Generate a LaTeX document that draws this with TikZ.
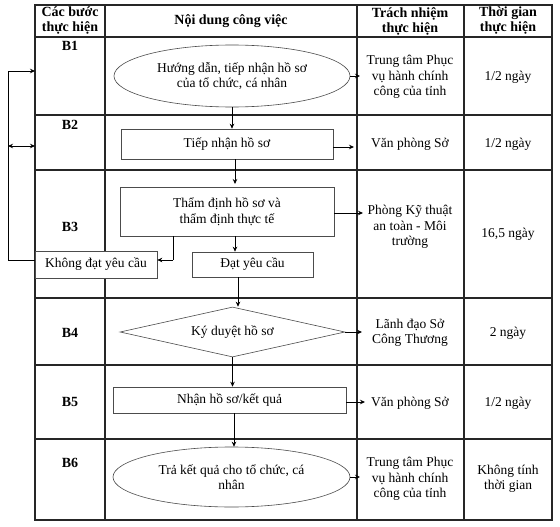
\documentclass[tikz,border=0pt]{standalone}
\usepackage{fontspec}
\setmainfont{Liberation Serif}
\usetikzlibrary{shapes.geometric,arrows.meta}
\begin{document}
\begin{tikzpicture}[x=1pt,y=-1pt,
  font=\fontsize{13.5}{15.5}\selectfont,
  tbl/.style={line width=1.1pt, black!85},
  boxline/.style={draw=black!70, line width=0.6pt},
  flowbox/.style={boxline, fill=white, rectangle, inner sep=0pt, align=center},
  oval/.style={boxline, ellipse, inner sep=0pt, align=center},
  dia/.style={boxline, diamond, aspect=4.5, inner sep=0pt, align=center},
  txt/.style={align=center, inner sep=0pt},
  hdr/.style={align=center, inner sep=0pt, font=\fontsize{14}{15}\selectfont\bfseries},
  arr/.style={line width=0.8pt, -{Stealth[length=5pt,width=4.5pt]}},
  ln/.style={line width=0.8pt}
]
\useasboundingbox (0,0) rectangle (560,527);
\fill[white] (0,0) rectangle (560,527);

% table
\draw[tbl] (35,5) rectangle (552,520);
\foreach \xx in {105,357,464} \draw[tbl] (\xx,5) -- (\xx,520);
\foreach \yy in {37,115,170,298,365,439} \draw[tbl] (35,\yy) -- (552,\yy);

% headers
\node[hdr] (h1) at (70,21) {Các bước\\thực hiện};
\node[hdr] (h2) at (231,21) {Nội dung công việc};
\node[hdr] (h3) at (410,21) {Trách nhiệm\\thực hiện};
\node[hdr] (h4) at (508,21) {Thời gian\\thực hiện};

% step labels
\node[hdr] (b1) at (70,46) {B1};
\node[hdr] (b2) at (70,125) {B2};
\node[hdr] (b3) at (70,227) {B3};
\node[hdr] (b4) at (70,333) {B4};
\node[hdr] (b5) at (70,402) {B5};
\node[hdr] (b6) at (70,463) {B6};

% responsibility
\node[txt] (r1) at (410,77) {Trung tâm Phục\\vụ hành chính\\công của tỉnh};
\node[txt] (r2) at (410,144) {Văn phòng Sở};
\node[txt] (r3) at (410,227) {Phòng Kỹ thuật\\an toàn - Môi\\trường};
\node[txt] (r4) at (410,333) {Lãnh đạo Sở\\Công Thương};
\node[txt] (r5) at (410,403) {Văn phòng Sở};
\node[txt] (r6) at (410,479) {Trung tâm Phục\\vụ hành chính\\công của tỉnh};

% time
\node[txt] (t1) at (508,77) {1/2 ngày};
\node[txt] (t2) at (508,144) {1/2 ngày};
\node[txt] (t3) at (508,234) {16,5 ngày};
\node[txt] (t4) at (508,333) {2 ngày};
\node[txt] (t5) at (508,403) {1/2 ngày};
\node[txt] (t6) at (508,479) {Không tính\\thời gian};

% flow nodes
\node[oval, minimum width=236pt, minimum height=62pt] (n1) at (232,76) {Hướng dẫn, tiếp nhận hồ sơ\\của tổ chức, cá nhân};
\node[flowbox, minimum width=212pt, minimum height=30pt] (n2) at (227,144) {Tiếp nhận hồ sơ};
\node[flowbox, minimum width=214pt, minimum height=49pt] (n3) at (227,211.5) {Thẩm định hồ sơ và\\thẩm định thực tế};
\node[flowbox, minimum width=122pt, minimum height=27pt] (no) at (96,264.5) {Không đạt yêu cầu};
\node[flowbox, minimum width=121pt, minimum height=25pt] (yes) at (252.5,264.5) {Đạt yêu cầu};
\node[dia, minimum width=225pt, minimum height=50pt] (n4) at (232.5,332) {Ký duyệt hồ sơ};
\node[flowbox, minimum width=233pt, minimum height=26pt] (n5) at (229.5,400) {Nhận hồ sơ/kết quả};
\node[oval, minimum width=237pt, minimum height=60pt] (n6) at (231.5,477) {Trả kết quả cho tổ chức, cá\\nhân};

% vertical flow arrows
\draw[arr] (n1.south) -- (n2.north -| n1.south);
\draw[arr] (n2.south -| 235,0) -- (235,184);
\draw[arr] (n3.south -| 235,0) -- (yes.north -| 235,0);
\draw[ln] (n3.south -| 173,0) -- (173,260);
\draw[arr] (173,260) -- (no.east |- 0,260);
\draw[arr] (yes.south -| 238,0) -- (n4.north -| 238,0);
\draw[arr] (n4.south) -- (n5.north -| n4.south);
\draw[arr] (n5.south -| 234,0) -- (n6.north -| 234,0);

% horizontal arrows to responsibility
\draw[arr] (n1.east) -- (360,76);
\draw[arr] (n2.east |- 0,147) -- (354,147);
\draw[arr] (n3.east |- 0,213) -- (363,213);
\draw[arr] (n4.east) -- (362,332);
\draw[arr] (n5.east |- 0,402) -- (365,402);
\draw[arr] (n6.east) -- (360,477);

% loop back
\coordinate (lb) at (8,260);
\coordinate (lt) at (8,71);
\draw[ln] (no.west |- 0,260) -- (lb) -- (lt);
\draw[arr] (lt) -- (35,71);
\draw[line width=0.8pt, {Stealth[length=5pt,width=4.5pt]}-{Stealth[length=5pt,width=4.5pt]}] (8,146) -- (35,146);
\end{tikzpicture}
\end{document}
